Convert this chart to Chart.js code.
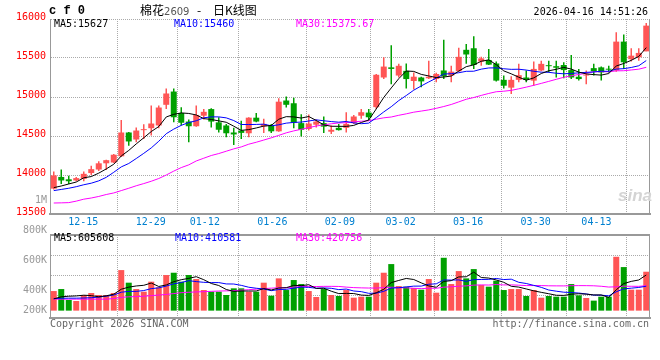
<!DOCTYPE html>
<html>
<head>
<meta charset="utf-8">
<script src="https://cdn.jsdelivr.net/npm/chart.js@4.4.1/dist/chart.umd.min.js"></script>
<style>
    html, body { margin: 0; padding: 0; background: #fff; }
    #wrap { position: relative; width: 660px; height: 360px; overflow: hidden;
            font-family: 'DejaVu Sans Mono', monospace; font-size: 10px; }
    #wrap canvas { position: absolute; left: 0; }
    .t { position: absolute; white-space: nowrap; line-height: 12px; }
    .vl { position: absolute; left: 7px; width: 40px; text-align: right; color: #999; line-height: 12px; }
</style>
</head>
<body>
<div id="wrap">
    <canvas id="priceChart" width="660" height="232" style="top:0"></canvas>
    <canvas id="volumeChart" width="660" height="134" style="top:226px"></canvas>

    <div class="t" style="left:49px;top:5px;font-family:'Liberation Mono',monospace;font-weight:bold;font-size:12px;">c f 0</div>
    <div class="t" style="left:140px;top:3px;line-height:14px;font-family:'Noto Sans CJK SC',sans-serif;font-size:12px;">棉花<span style="font-family:'DejaVu Sans',sans-serif;font-size:10px;color:#555;">2609</span></div>
    <div class="t" style="left:197px;top:3px;line-height:14px;font-family:'Noto Sans CJK SC',sans-serif;font-size:12px;">-</div>
    <div class="t" style="left:213px;top:3px;line-height:14px;font-family:'Noto Sans CJK SC',sans-serif;font-size:12px;">日K线图</div>
    <div class="t" style="right:12px;top:6px;color:#000;">2026-04-16 14:51:26</div>

    <div class="t" id="pma5" style="left:54px;top:18px;color:#000;"></div>
    <div class="t" id="pma10" style="left:174px;top:18px;color:#0000ff;"></div>
    <div class="t" id="pma30" style="left:296px;top:18px;color:#ff00ff;"></div>

    <div class="t" id="vma5" style="left:54px;top:232px;color:#000;"></div>
    <div class="t" id="vma10" style="left:175px;top:232px;color:#0000ff;"></div>
    <div class="t" id="vma30" style="left:296px;top:232px;color:#ff00ff;"></div>

    <div class="vl" style="top:194px;">1M</div>
    <div class="vl" style="top:224px;">800K</div>
    <div class="vl" style="top:254px;">600K</div>
    <div class="vl" style="top:284px;">400K</div>
    <div class="vl" style="top:304px;">200K</div>

    <div class="t" style="left:618px;top:186px;font-family:'Liberation Sans',sans-serif;font-style:italic;font-weight:bold;font-size:17px;line-height:20px;color:#d4d4d4;">sina</div>

    <div class="t" style="left:50px;top:318px;color:#666;">Copyright 2026 SINA.COM</div>
    <div class="t" style="right:11px;top:318px;color:#666;">http://finance.sina.com.cn</div>
</div>

<script>
(function () {
    'use strict';

    // trading days shown, 12-15 .. 04-16
    const dates = [
        '12-15', '12-16', '12-17', '12-18', '12-19', '12-22', '12-23', '12-24', '12-25', '12-26',
        '12-29', '12-30', '12-31', '01-05', '01-06', '01-07', '01-08', '01-09',
        '01-12', '01-13', '01-14', '01-15', '01-16', '01-19', '01-20', '01-21', '01-22', '01-23',
        '01-26', '01-27', '01-28', '01-29', '01-30', '02-02', '02-03', '02-04', '02-05', '02-06',
        '02-09', '02-10', '02-11', '02-12', '02-13', '02-24', '02-25', '02-26', '02-27',
        '03-02', '03-03', '03-04', '03-05', '03-06', '03-09', '03-10', '03-11', '03-12', '03-13',
        '03-16', '03-17', '03-18', '03-19', '03-20', '03-23', '03-24', '03-25', '03-26', '03-27',
        '03-30', '03-31', '04-01', '04-02', '04-03', '04-07', '04-08', '04-09', '04-10',
        '04-13', '04-14', '04-15', '04-16',
    ];

    const tickLabels = ['12-15', '12-29', '01-12', '01-26', '02-09', '03-02', '03-16', '03-30', '04-13'];

    const opens = [
        13825, 13975, 13945, 13930, 13950, 14025, 14070, 14150, 14160, 14240,
        14545, 14455, 14575, 14600, 14635, 14900, 15070, 14795, 14685, 14625,
        14760, 14845, 14675, 14635, 14545, 14570, 14535, 14735, 14625, 14635,
        14560, 14955, 14920, 14665, 14590, 14645, 14665, 14555, 14605, 14605,
        14665, 14760, 14800, 14870, 15250, 15380, 15275, 15335, 15205, 15250,
        15240, 15230, 15340, 15275, 15330, 15605, 15625, 15455, 15475, 15430,
        15220, 15120, 15220, 15250, 15210, 15340, 15400, 15395, 15410, 15345,
        15260, 15275, 15370, 15380, 15360, 15340, 15710, 15485, 15510, 15585,
    ];
    const closes = [
        13995, 13930, 13920, 13960, 14015, 14075, 14150, 14190, 14260, 14545,
        14430, 14570, 14580, 14660, 14865, 15045, 14740, 14670, 14625, 14770,
        14810, 14685, 14580, 14535, 14520, 14540, 14735, 14685, 14655, 14560,
        14940, 14900, 14670, 14580, 14660, 14685, 14620, 14580, 14575, 14655,
        14750, 14805, 14740, 15285, 15390, 15360, 15400, 15230, 15260, 15200,
        15260, 15295, 15265, 15325, 15515, 15545, 15410, 15495, 15415, 15210,
        15145, 15220, 15280, 15220, 15360, 15425, 15395, 15375, 15345, 15250,
        15230, 15280, 15330, 15315, 15350, 15710, 15445, 15530, 15565, 15915,
    ];
    const highs = [
        14045, 14070, 13990, 13975, 14045, 14120, 14175, 14195, 14270, 14705,
        14550, 14610, 14650, 14890, 14890, 15110, 15110, 14870, 14710, 14890,
        14845, 14855, 14740, 14655, 14605, 14695, 14740, 14795, 14720, 14655,
        14985, 15005, 14990, 14780, 14775, 14710, 14750, 14635, 14655, 14805,
        14770, 14845, 14845, 15295, 15510, 15665, 15425, 15430, 15315, 15260,
        15465, 15310, 15735, 15400, 15630, 15680, 15780, 15515, 15615, 15455,
        15275, 15265, 15425, 15340, 15455, 15465, 15465, 15465, 15445, 15540,
        15360, 15340, 15425, 15390, 15400, 15830, 15800, 15625, 15625, 15950,
    ];
    const lows = [
        13815, 13885, 13885, 13920, 13920, 14000, 14050, 14065, 14155, 14230,
        14375, 14420, 14460, 14505, 14600, 14845, 14675, 14635, 14420, 14620,
        14710, 14610, 14545, 14485, 14385, 14460, 14485, 14675, 14540, 14540,
        14555, 14865, 14600, 14495, 14570, 14610, 14540, 14525, 14570, 14545,
        14655, 14720, 14695, 14845, 15230, 15165, 15250, 15110, 15095, 15125,
        15230, 15190, 15230, 15190, 15325, 15425, 15360, 15400, 15410, 15200,
        15110, 15040, 15190, 15190, 15145, 15330, 15315, 15250, 15240, 15230,
        15210, 15165, 15275, 15210, 15310, 15325, 15360, 15455, 15465, 15585,
    ];
    const volumes = [
        333000, 367000, 181000, 164000, 266000, 299000, 266000, 266000, 299000, 689000,
        475000, 367000, 322000, 492000, 396000, 605000, 644000, 492000, 605000, 537000,
        350000, 322000, 322000, 266000, 379000, 379000, 322000, 322000, 475000, 254000,
        548000, 350000, 520000, 452000, 333000, 232000, 367000, 266000, 249000, 350000,
        220000, 237000, 237000, 475000, 644000, 791000, 418000, 407000, 384000, 356000,
        537000, 305000, 898000, 452000, 672000, 548000, 706000, 435000, 407000, 509000,
        350000, 367000, 367000, 249000, 350000, 220000, 249000, 237000, 237000, 452000,
        260000, 215000, 170000, 237000, 237000, 915000, 740000, 356000, 356000, 661000,
    ];

    // moving-average values on the first days, whose windows start before 12-15
    const ma5Lead = [13838, 13859, 13885, 13910];
    const ma10Lead = [13800, 13815, 13830, 13850, 13875, 13895, 13925, 13970, 14035];
    const ma30Lead = [
        13641, 13643, 13646, 13665, 13690, 13705, 13725, 13750, 13770, 13800,
        13830, 13862, 13890, 13920, 13955, 14000, 14050, 14095, 14130, 14180,
        14215, 14250, 14275, 14305, 14335, 14360, 14395, 14420, 14448,
    ];
    const vma5Lead = [200000, 235000, 245000, 250000];
    const vma10Lead = [205000, 210000, 212000, 212000, 215000, 220000, 230000, 245000, 265000];
    const vma30Lead = [
        195000, 195000, 195000, 195000, 195000, 195000, 195000, 195000, 205000, 225000,
        235000, 238000, 245000, 255000, 265000, 275000, 290000, 305000, 312000, 318000,
        322000, 328000, 333000, 336000, 340000, 348000, 356000, 365000, 375000,
    ];

    // legend figures as printed on the chart
    const priceMaLegend = ['15627', '15460', '15375.67'];
    const volumeMaLegend = ['605608', '410581', '420756'];

    const volumeGridTicks = [261000, 600000, 939000];

    const UP = '#ff5555';
    const DOWN = '#00a000';
    const GRID = '#aaaaaa';
    const FRAME = '#999999';
    const MA_COLORS = ['#000000', '#0000ff', '#ff00ff'];

    Chart.defaults.font.family = "'DejaVu Sans Mono', monospace";
    Chart.defaults.font.size = 10;

    function movingAverage(values, span, lead) {
        return values.map(function (v, i) {
            if (i < span - 1) return lead[i];
            let sum = 0;
            for (let k = i - span + 1; k <= i; k++) sum += values[k];
            return sum / span;
        });
    }

    function candleColor(ctx) {
        const i = ctx.dataIndex;
        return closes[i] >= opens[i] ? UP : DOWN;
    }

    const tickIndex = tickLabels.map((l) => dates.indexOf(l));

    // right edge (and optional top edge) of the plot box
    const framePlugin = {
        id: 'frame',
        afterDraw(chart, args, opts) {
            const { ctx, chartArea: a } = chart;
            ctx.save();
            ctx.fillStyle = FRAME;
            ctx.fillRect(Math.round(a.right) - 1, Math.round(a.top), 1, Math.round(a.bottom - a.top));
            if (opts.top) {
                ctx.fillRect(Math.round(a.left), Math.round(a.top) - 1, Math.round(a.right - a.left), 2);
            }
            ctx.restore();
        },
    };

    function gridAxis(showLabels) {
        return {
            type: 'linear',
            position: 'bottom',
            min: 0,
            max: dates.length - 1,
            afterBuildTicks(scale) {
                scale.ticks = tickIndex.map((v) => ({ value: v }));
            },
            afterFit(scale) {
                scale.height = showLabels ? 18 : 0;
            },
            grid: {
                color: (c) => (c.tick && c.tick.value === 0 ? 'rgba(0,0,0,0)' : GRID),
                drawTicks: false,
            },
            border: { color: FRAME, width: 2, dash: [1, 1] },
            ticks: {
                display: showLabels,
                autoSkip: false,
                maxRotation: 0,
                padding: 2,
                color: '#0080d0',
                callback: (v) => tickLabels[tickIndex.indexOf(v)],
            },
        };
    }

    function maLine(label, data, color, yAxisID) {
        return {
            type: 'line',
            label: label,
            data: data,
            borderColor: color,
            borderWidth: 1,
            pointRadius: 0,
            tension: 0,
            xAxisID: 'x',
            yAxisID: yAxisID,
            order: 0,
        };
    }

    function initPriceChart() {
        const ma5 = movingAverage(closes, 5, ma5Lead);
        const ma10 = movingAverage(closes, 10, ma10Lead);
        const ma30 = movingAverage(closes, 30, ma30Lead);

        new Chart(document.getElementById('priceChart'), {
            type: 'bar',
            data: {
                labels: dates,
                datasets: [
                    maLine('MA5', ma5, MA_COLORS[0], 'y'),
                    maLine('MA10', ma10, MA_COLORS[1], 'y'),
                    maLine('MA30', ma30, MA_COLORS[2], 'y'),
                    {
                        label: 'body',
                        data: opens.map((o, i) => [o, closes[i]]),
                        backgroundColor: candleColor,
                        barThickness: 6,
                        minBarLength: 1,
                        inflateAmount: 0,
                        grouped: false,
                        xAxisID: 'x',
                        yAxisID: 'y',
                        order: 1,
                    },
                    {
                        label: 'wick',
                        data: lows.map((l, i) => [l, highs[i]]),
                        backgroundColor: candleColor,
                        barThickness: 1.5,
                        inflateAmount: 0,
                        grouped: false,
                        xAxisID: 'x',
                        yAxisID: 'y',
                        order: 2,
                    },
                ],
            },
            options: {
                responsive: false,
                animation: false,
                events: [],
                layout: { padding: { top: 19, right: 10, left: 0, bottom: 0 } },
                plugins: {
                    legend: { display: false },
                    tooltip: { enabled: false },
                    frame: { top: false },
                },
                scales: {
                    x: { type: 'category', display: false, offset: true },
                    xg: gridAxis(true),
                    y: {
                        min: 13500,
                        max: 16000,
                        afterFit(scale) { scale.width = 50; },
                        ticks: {
                            stepSize: 500,
                            color: '#ff0000',
                            padding: 4,
                            labelOffset: -2,
                            callback: (v) => String(v),
                        },
                        grid: {
                            color: (c) => (c.tick && c.tick.value === 13500 ? 'rgba(0,0,0,0)' : GRID),
                            drawTicks: false,
                        },
                        border: { color: FRAME, width: 1, dash: [1, 1] },
                    },
                },
            },
            plugins: [framePlugin],
        });

        document.getElementById('pma5').textContent = 'MA5:' + priceMaLegend[0];
        document.getElementById('pma10').textContent = 'MA10:' + priceMaLegend[1];
        document.getElementById('pma30').textContent = 'MA30:' + priceMaLegend[2];
    }

    function initVolumeChart() {
        const vma5 = movingAverage(volumes, 5, vma5Lead);
        const vma10 = movingAverage(volumes, 10, vma10Lead);
        const vma30 = movingAverage(volumes, 30, vma30Lead);

        new Chart(document.getElementById('volumeChart'), {
            type: 'bar',
            data: {
                labels: dates,
                datasets: [
                    maLine('MA5', vma5, MA_COLORS[0], 'y'),
                    maLine('MA10', vma10, MA_COLORS[1], 'y'),
                    maLine('MA30', vma30, MA_COLORS[2], 'y'),
                    {
                        label: 'volume',
                        data: volumes,
                        backgroundColor: candleColor,
                        barThickness: 6,
                        inflateAmount: 0,
                        grouped: false,
                        xAxisID: 'x',
                        yAxisID: 'y',
                        order: 1,
                    },
                ],
            },
            options: {
                responsive: false,
                animation: false,
                events: [],
                layout: { padding: { top: 9, right: 10, left: 0, bottom: 42 } },
                plugins: {
                    legend: { display: false },
                    tooltip: { enabled: false },
                    frame: { top: true },
                },
                scales: {
                    x: { type: 'category', display: false, offset: true },
                    xg: gridAxis(false),
                    y: {
                        min: -125000,
                        max: 1285000,
                        afterFit(scale) { scale.width = 50; },
                        afterBuildTicks(scale) {
                            scale.ticks = volumeGridTicks.map((v) => ({ value: v }));
                        },
                        ticks: { display: false },
                        grid: { color: GRID, drawTicks: false },
                        border: { color: FRAME, width: 1, dash: [1, 1] },
                    },
                },
            },
            plugins: [framePlugin],
        });

        document.getElementById('vma5').textContent = 'MA5:' + volumeMaLegend[0];
        document.getElementById('vma10').textContent = 'MA10:' + volumeMaLegend[1];
        document.getElementById('vma30').textContent = 'MA30:' + volumeMaLegend[2];
    }

    initPriceChart();
    initVolumeChart();
})();
</script>
</body>
</html>
